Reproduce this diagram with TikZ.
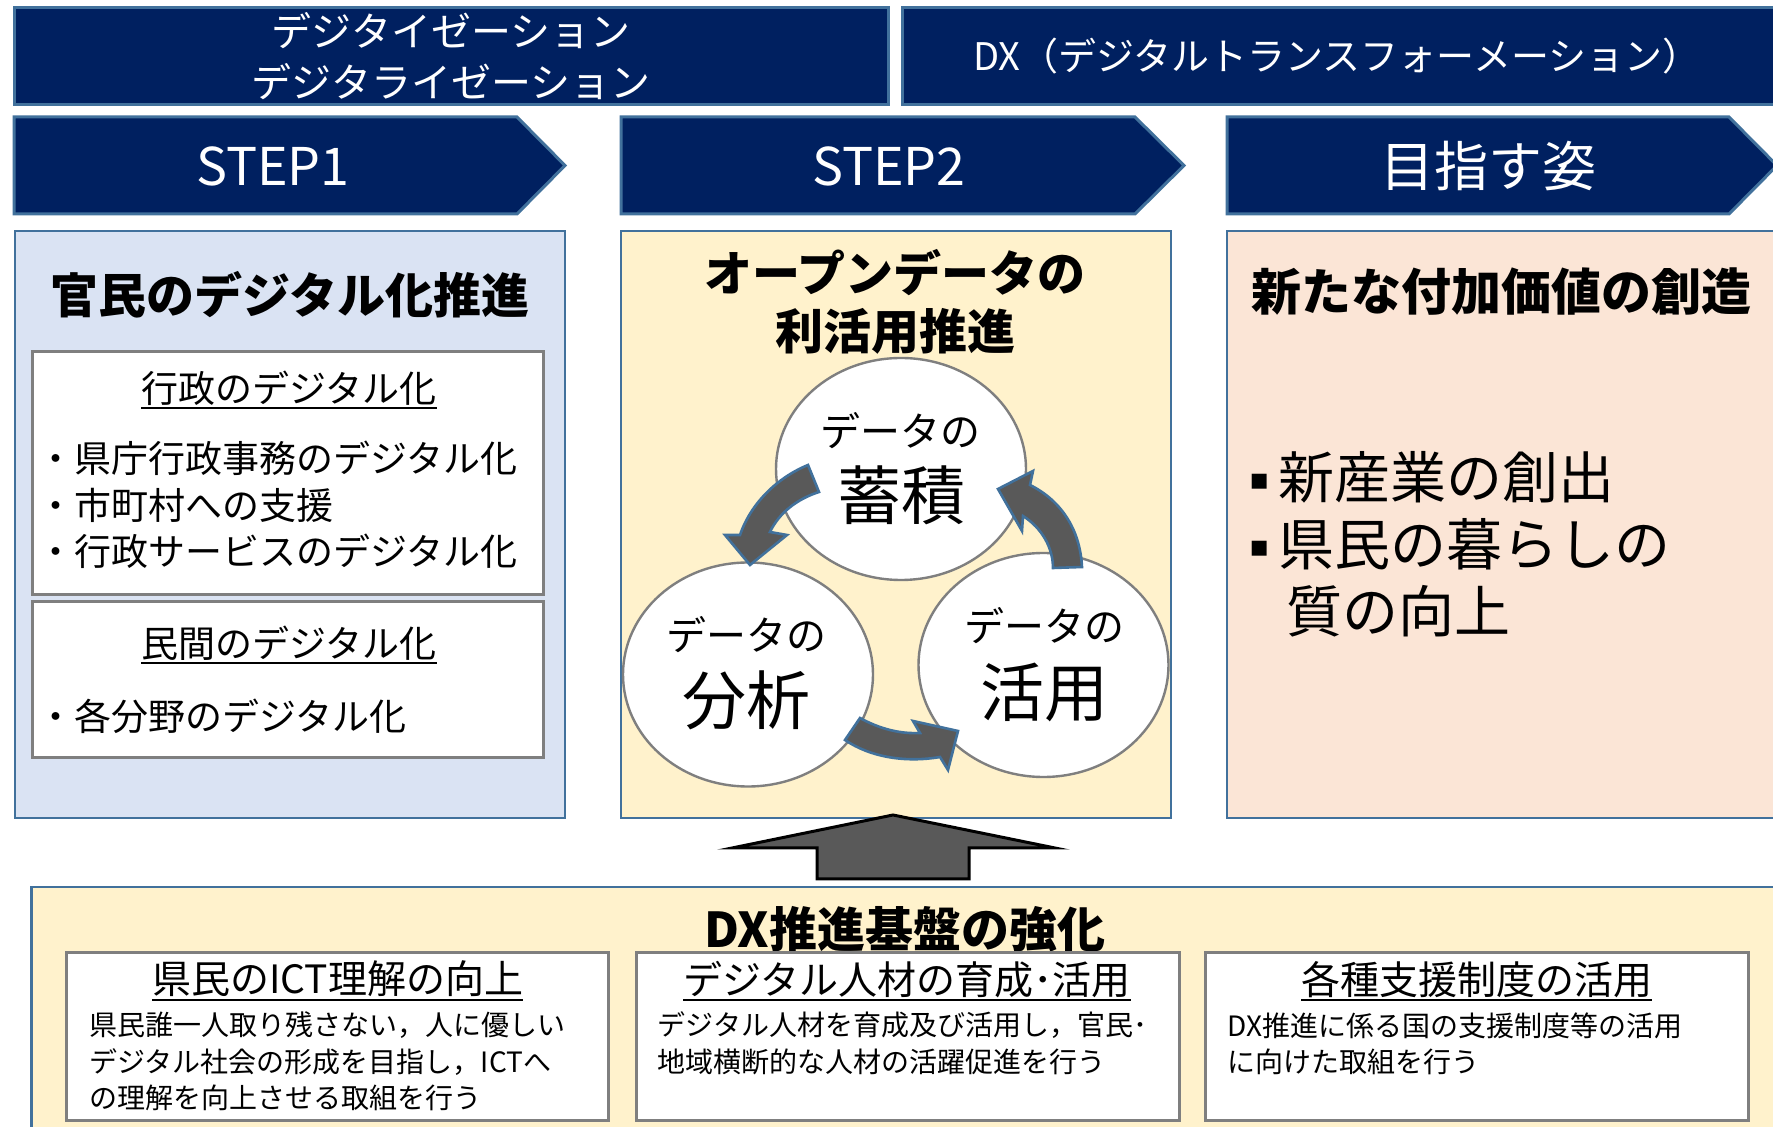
\documentclass[tikz,border=0pt]{standalone}
\usepackage{fontspec}
\setmainfont{Noto Sans CJK JP}
\newfontfamily\dejavu{DejaVu Sans}
\usetikzlibrary{shapes.geometric}
\definecolor{navy}{HTML}{002060}
\definecolor{bord}{HTML}{41719C}
\definecolor{lblue}{HTML}{DAE3F3}
\definecolor{lyellow}{HTML}{FFF2CC}
\definecolor{lpeach}{HTML}{FBE5D6}
\definecolor{gbord}{HTML}{7F7F7F}
\definecolor{agray}{HTML}{595959}
\newcommand\myul[1]{\leavevmode\setbox0=\hbox{#1}\rlap{\vrule width\wd0 height -0.12em depth 0.18em}\box0}
\newcommand\fsz[2]{\fontsize{#1}{#2}\selectfont}
\newcommand\sqbul{\makebox[14.5pt][l]{\raisebox{4.5pt}{\dejavu\fontsize{15pt}{15pt}\selectfont ▪}}}
\tikzset{
  banner/.style={fill=navy, draw=bord, line width=1.5pt, line join=miter},
  wtxt/.style={text=white, inner sep=0pt},
  btxt/.style={text=black, inner sep=0pt},
  cbox/.style={draw=bord, line width=1.2pt},
  inbox/.style={draw=gbord, line width=1.5pt, fill=white},
  circ/.style={ellipse, draw=gbord, line width=1.2pt, fill=white, inner sep=0pt},
  carrow/.style={fill=agray, draw=bord, line width=1.3pt, line join=miter},
  uparrow/.style={fill=agray, draw=black, line width=1.5pt, line join=miter}
}
\begin{document}
\begin{tikzpicture}[x=0.5pt,y=-0.5pt]
\useasboundingbox (0,0) rectangle (1773,1127);
\clip (0,0) rectangle (1773,1127);
\fill[white] (0,0) rectangle (1773,1127);

% top banners
\draw[banner] (14,8) rectangle (888,105);
\draw[banner] (902,8) rectangle (1800,105);
\node[wtxt, font=\fsz{20pt}{25.5pt}, align=center] (dz) at (451,56) {デジタイゼーション\\デジタライゼーション};
\node[wtxt, font=\fsz{19pt}{22pt}] (dx) at (1337,56) {DX（デジタルトランスフォーメーション）};

% chevrons
\draw[banner] (14,117) -- (517,117) -- (565,165.5) -- (517,214) -- (14,214) -- cycle;
\draw[banner] (621,117) -- (1135,117) -- (1184,165.5) -- (1135,214) -- (621,214) -- cycle;
\draw[banner] (1227,117) -- (1729,117) -- (1777,165.5) -- (1729,214) -- (1227,214) -- cycle;
\node[wtxt, font=\fsz{26pt}{30pt}] (s1) at (273,166) {STEP1};
\node[wtxt, font=\fsz{26pt}{30pt}] (s2) at (889,166) {STEP2};
\node[wtxt, font=\fsz{27pt}{30pt}] (s3) at (1488,166) {目指す姿};

% content boxes
\draw[cbox, fill=lblue] (15,231) rectangle (565,818);
\draw[cbox, fill=lyellow] (621,231) rectangle (1171,818);
\draw[cbox, fill=lpeach] (1227,231) rectangle (1800,818);

% blue column
\node[btxt, font=\fsz{24pt}{28pt}\bfseries] (kanmin) at (290,294.5) {官民のデジタル化推進};
\draw[inbox] (32.5,352) rectangle (543,595);
\draw[inbox] (32.5,602) rectangle (543,757.5);
\node[btxt, font=\fsz{18.5pt}{22pt}] (gyosei) at (289,390) {\myul{行政のデジタル化}};
\node[btxt, font=\fsz{18.5pt}{22pt}, anchor=west] (g1) at (37,458) {・県庁行政事務のデジタル化};
\node[btxt, font=\fsz{18.5pt}{22pt}, anchor=west] (g2) at (37,505) {・市町村への支援};
\node[btxt, font=\fsz{18.5pt}{22pt}, anchor=west] (g3) at (37,551) {・行政サービスのデジタル化};
\node[btxt, font=\fsz{18.5pt}{22pt}] (minkan) at (289,645) {\myul{民間のデジタル化}};
\node[btxt, font=\fsz{18.5pt}{22pt}, anchor=west] (m1) at (37,716) {・各分野のデジタル化};

% yellow column
\node[btxt, font=\fsz{24pt}{28pt}\bfseries] (od1) at (895,273) {オープンデータの};
\node[btxt, font=\fsz{24pt}{28pt}\bfseries] (od2) at (895,331) {利活用推進};
\node[circ, minimum width=125pt, minimum height=111pt] (chiku) at (901,469) {};
\node[circ, minimum width=125pt, minimum height=112pt] (bunseki) at (748,674.5) {};
\node[circ, minimum width=125pt, minimum height=112pt] (katsuyo) at (1043.5,665) {};
\node[btxt, font=\fsz{20pt}{24pt}] (c1a) at (900,430.5) {データの};
\node[btxt, font=\fsz{32pt}{36pt}] (c1b) at (901,495.5) {蓄積};
\node[btxt, font=\fsz{20pt}{24pt}] (c2a) at (746,635) {データの};
\node[btxt, font=\fsz{32pt}{36pt}] (c2b) at (746,700) {分析};
\node[btxt, font=\fsz{20pt}{24pt}] (c3a) at (1044,625.5) {データの};
\node[btxt, font=\fsz{32pt}{36pt}] (c3b) at (1044,692.5) {活用};
% curved arrows
\filldraw[carrow] (808,465) .. controls (781,476) and (752,500) .. (740,535) -- (725,535) -- (750,565) -- (787,535) -- (770,532) .. controls (779,513) and (797,499) .. (819,492) -- cycle;
\filldraw[carrow] (1082,567) .. controls (1080,528) and (1060,500) .. (1030,485) -- (1033,471) -- (998,489) -- (1022,531) -- (1023,516) .. controls (1042,528) and (1053,548) .. (1053,568) -- cycle;
\filldraw[carrow] (860,718) .. controls (880,729) and (900,734) .. (920,733) -- (913,721) -- (958,731) -- (948,770) -- (940,757) .. controls (905,763) and (870,757) .. (845,740) -- cycle;

% peach column
\node[btxt, font=\fsz{25pt}{28pt}\bfseries] (aratana) at (1501,292) {新たな付加価値の創造};
\node[btxt, font=\fsz{28pt}{32pt}, anchor=west] (p1) at (1249,477) {\sqbul 新産業の創出};
\node[btxt, font=\fsz{28pt}{32pt}, anchor=west] (p2) at (1249,544) {\sqbul 県民の暮らしの};
\node[btxt, font=\fsz{28pt}{32pt}, anchor=west] (p3) at (1249,611) {\hspace*{18.5pt}質の向上};

% bottom section
\draw[cbox, fill=lyellow] (31.6,887) rectangle (1800,1160);
\node[btxt, font=\fsz{24pt}{28pt}\bfseries] (kiban) at (904.6,929) {DX推進基盤の強化};
\draw[inbox] (66,952) rectangle (608.5,1120);
\draw[inbox] (636,952) rectangle (1179,1120);
\draw[inbox] (1205.7,952) rectangle (1748.5,1120);
\node[btxt, font=\fsz{19.5pt}{22pt}] (ta) at (337.8,981) {\myul{県民のICT理解の向上}};
\node[btxt, font=\fsz{19.5pt}{22pt}] (tb) at (907,981) {\myul{デジタル人材の育成･活用}};
\node[btxt, font=\fsz{19.5pt}{22pt}] (tc) at (1476.5,981) {\myul{各種支援制度の活用}};
\node[btxt, font=\fsz{14pt}{18pt}, anchor=west] (a1) at (89,1025.5) {県民誰一人取り残さない，人に優しい};
\node[btxt, font=\fsz{14pt}{18pt}, anchor=west] (a2) at (89,1062) {デジタル社会の形成を目指し，ICTへ};
\node[btxt, font=\fsz{14pt}{18pt}, anchor=west] (a3) at (89,1098) {の理解を向上させる取組を行う};
\node[btxt, font=\fsz{14pt}{18pt}, anchor=west] (b1) at (657.5,1025.5) {デジタル人材を育成及び活用し，官民･};
\node[btxt, font=\fsz{14pt}{18pt}, anchor=west] (b2) at (657.5,1062) {地域横断的な人材の活躍促進を行う};
\node[btxt, font=\fsz{14pt}{18pt}, anchor=west] (c1) at (1227.5,1025.5) {DX推進に係る国の支援制度等の活用};
\node[btxt, font=\fsz{14pt}{18pt}, anchor=west] (c2) at (1227.5,1062) {に向けた取組を行う};

% up arrow
\filldraw[uparrow] (893,815) -- (1055,848) -- (969,848) -- (969,879) -- (817,879) -- (817,848) -- (732,848) -- cycle;
\end{tikzpicture}
\end{document}
